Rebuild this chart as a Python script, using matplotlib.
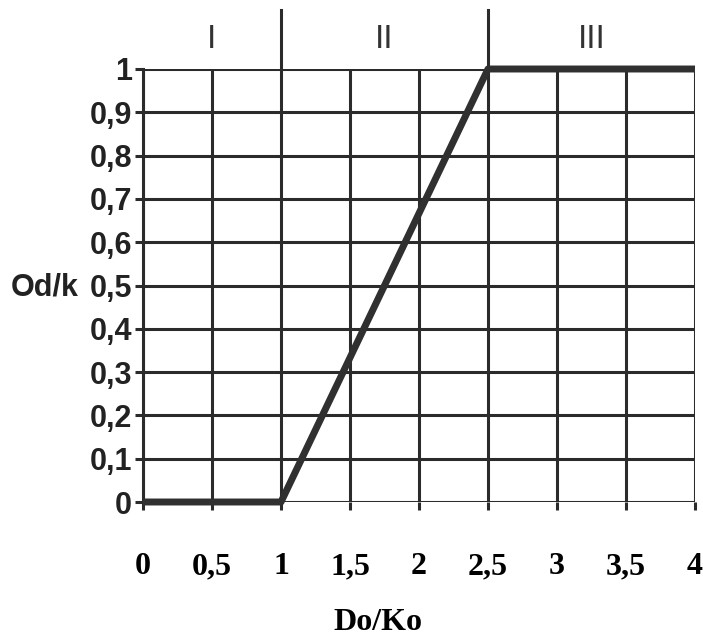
import numpy as np
import matplotlib.pyplot as plt

# data
x_pts = [0, 1, 2.5, 4]
y_pts = [0, 0, 1, 1]
x_ticks = [0, 0.5, 1, 1.5, 2, 2.5, 3, 3.5, 4]
x_labels = ['0', '0,5', '1', '1,5', '2', '2,5', '3', '3,5', '4']
y_ticks = [0, 0.1, 0.2, 0.3, 0.4, 0.5, 0.6, 0.7, 0.8, 0.9, 1]
y_labels = ['0', '0,1', '0,2', '0,3', '0,4', '0,5', '0,6', '0,7', '0,8', '0,9', '1']
zone_bounds = [1, 2.5]
zone_names = ['I', 'II', 'III']
zone_centers = [0.5, 1.75, 3.25]

ink = '#2b2b2b'

fig = plt.figure(figsize=(7.03, 6.36), dpi=100)
ax = fig.add_axes([143/703, 1 - 502/636, 552/703, 433/636])

ax.set_xlim(0, 4)
ax.set_ylim(0, 1)
ax.set_xticks(x_ticks)
ax.set_yticks(y_ticks)
ax.set_xticklabels(x_labels, family='Liberation Serif', fontweight='bold', fontsize=23)
ax.set_yticklabels(y_labels, family='Liberation Sans', fontweight='bold', fontsize=22,
                   color='#222222')
ax.tick_params(axis='x', length=6, width=2.2, color=ink, pad=30)
ax.tick_params(axis='y', length=6, width=2.2, color=ink, pad=2)
ax.grid(True, color=ink, linewidth=2.2)
for s in ax.spines.values():
    s.set_visible(False)
ax.spines['left'].set_visible(True)
ax.spines['left'].set_linewidth(2.2)
ax.spines['left'].set_color(ink)

ax.plot(x_pts, y_pts, color='#303030', linewidth=5, solid_capstyle='butt', zorder=5,
        clip_on=False)

# zone separators above the plot
for b in zone_bounds:
    ax.plot([b, b], [1, 1.136], color=ink, linewidth=2.2, clip_on=False)
for cx, nm in zip(zone_centers, zone_names):
    ax.text(cx, 1.067, nm, ha='center', va='center', fontsize=24,
            family='Liberation Sans', color='#333333')

fig.text(45/703, 1 - 287/636, 'Od/k', ha='center', va='center', fontsize=22,
         family='Liberation Sans', fontweight='bold', color='#222222')
fig.text(378/703, 1 - 623/636, 'Do/Ko', ha='center', va='center', fontsize=23,
         family='Liberation Serif', fontweight='bold')

fig.savefig('out.png', dpi=100)
